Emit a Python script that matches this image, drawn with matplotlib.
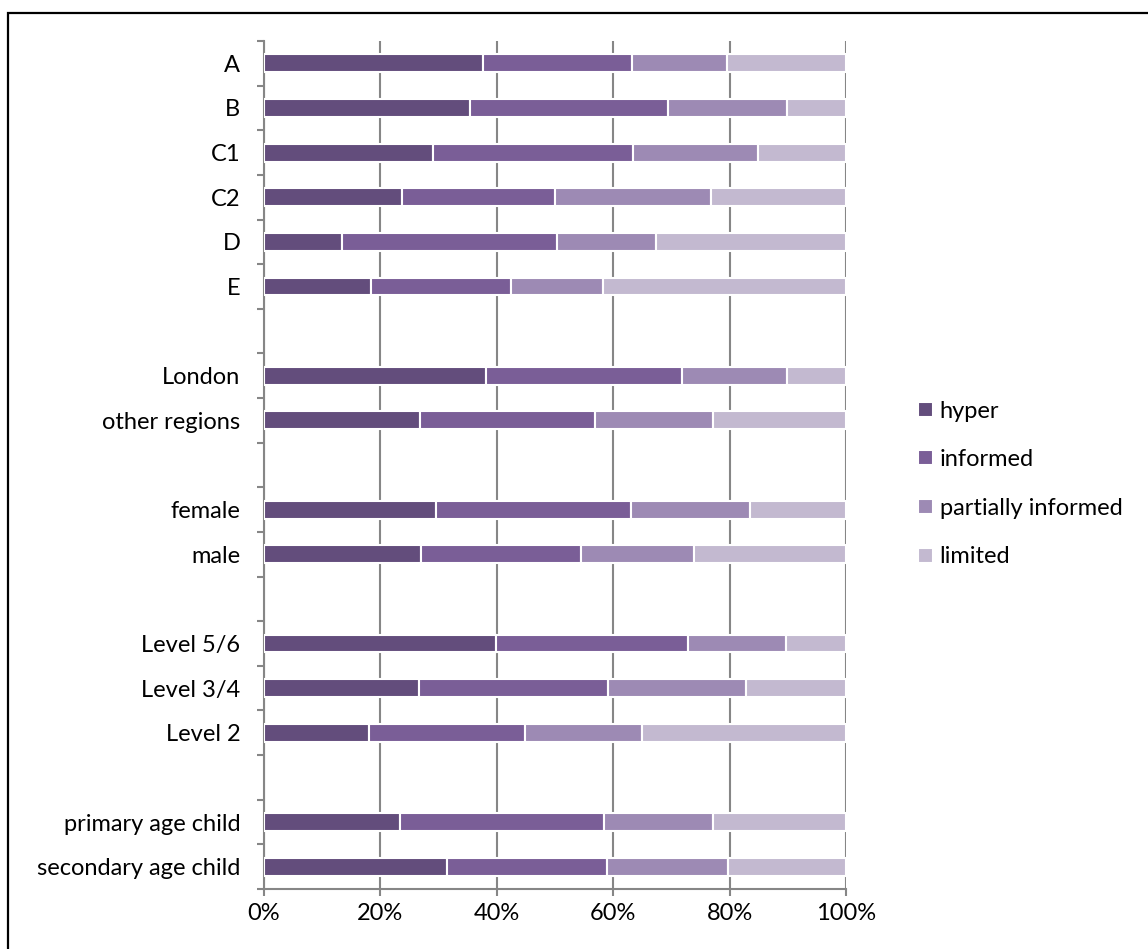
import numpy as np
import matplotlib
matplotlib.use("Agg")
import matplotlib.pyplot as plt
from matplotlib.patches import Rectangle

plt.rcParams["font.family"] = ["Lato", "DejaVu Sans"]

# categories top to bottom ("" = spacer row)
categories = ["A", "B", "C1", "C2", "D", "E", "",
              "London", "other regions", "",
              "female", "male", "",
              "Level 5/6", "Level 3/4", "Level 2", "",
              "primary age child", "secondary age child"]

# shares in percent, per category (spacer rows are 0)
hyper = [37.6, 35.4, 29.1, 23.7, 13.4, 18.3, 0,
         38.2, 26.8, 0,
         29.5, 26.9, 0,
         39.9, 26.6, 18.0, 0,
         23.3, 31.4]
informed = [25.6, 34.0, 34.3, 26.3, 36.9, 24.1, 0,
            33.6, 30.1, 0,
            33.5, 27.5, 0,
            33.0, 32.5, 26.8, 0,
            35.1, 27.6]
partial = [16.4, 20.5, 21.4, 26.8, 17.0, 15.9, 0,
           18.1, 20.2, 0,
           20.5, 19.5, 0,
           16.8, 23.7, 20.2, 0,
           18.7, 20.8]
limited = [20.4, 10.1, 15.2, 23.2, 32.7, 41.7, 0,
           10.1, 22.9, 0,
           16.5, 26.1, 0,
           10.3, 17.2, 35.0, 0,
           22.9, 20.2]

series_names = ["hyper", "informed", "partially informed", "limited"]
colors = ["#634d7c", "#7a5e97", "#9d8ab4", "#c3b9d0"]
FS = 17

fig = plt.figure(figsize=(11.48, 9.49), dpi=100)
fig.patches.append(Rectangle((8 / 1148, -0.1), 1.2, 1 - 13 / 949 + 0.1,
                             transform=fig.transFigure, fill=False,
                             edgecolor="black", linewidth=1.6))

ax = fig.add_axes([264 / 1148, 1 - 889 / 949, (846 - 264) / 1148, (889 - 41) / 949])

n = len(categories)
y = np.arange(n)
data = np.array([hyper, informed, partial, limited])
mask = data.sum(axis=0) > 0
bar_h = 0.4

# soft shadow under each bar
for k in range(4):
    ax.barh(y[mask] + 0.1, data.sum(axis=0)[mask], height=0.18, left=0,
            color="#9a9a9a", alpha=0.18, linewidth=0, zorder=2)

left = np.zeros(n)
for vals, name, c in zip(data, series_names, colors):
    ax.barh(y[mask], vals[mask], left=left[mask], height=bar_h, color=c,
            edgecolor="white", linewidth=1.5, label=name, zorder=3)
    left += vals

ax.set_ylim(n - 0.5, -0.5)
ax.set_xlim(0, 100)
ax.set_xticks(np.arange(0, 101, 20))
ax.set_xticklabels([f"{v}%" for v in range(0, 101, 20)])
ax.set_yticks(y[mask])
ax.set_yticklabels([c for c, m in zip(categories, mask) if m])
ax.set_yticks(np.arange(-0.5, n, 1), minor=True)

ax.grid(axis="x", color="#868686", linewidth=1.5, zorder=0)
ax.set_axisbelow(True)
for s in ["top", "right"]:
    ax.spines[s].set_visible(False)
for s in ["left", "bottom"]:
    ax.spines[s].set_color("#868686")
    ax.spines[s].set_linewidth(1.5)

ax.tick_params(axis="y", which="major", length=0, pad=17, labelsize=FS)
ax.tick_params(axis="y", which="minor", length=5, width=1.5, color="#868686")
ax.tick_params(axis="x", length=5, width=1.5, color="#868686", pad=5, labelsize=FS)

handles, labels = ax.get_legend_handles_labels()
fig.legend(handles, labels, loc="center left", bbox_to_anchor=(909 / 1148, 1 - 484 / 949),
           frameon=False, fontsize=FS, handlelength=0.6, handleheight=0.6,
           handletextpad=0.3, labelspacing=1.17, borderaxespad=0)

fig.savefig("out.png", dpi=100)
